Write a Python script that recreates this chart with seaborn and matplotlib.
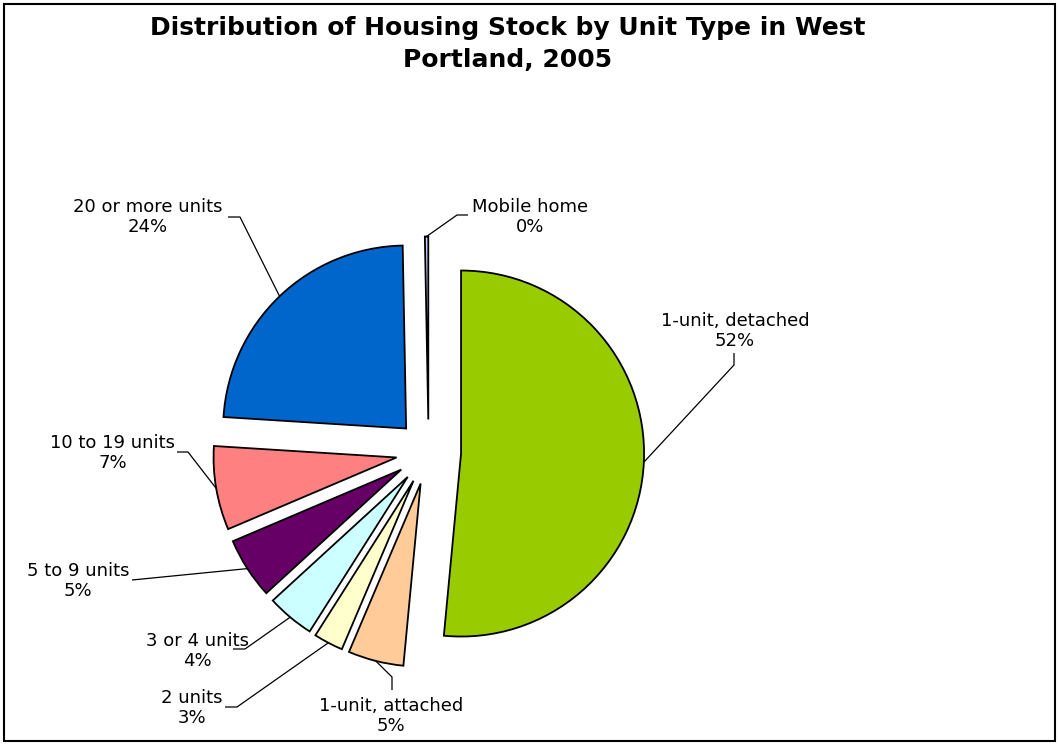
import matplotlib
matplotlib.use("Agg")
import math
import matplotlib.pyplot as plt
import seaborn as sns
from matplotlib.patches import Rectangle

# ---- data ----
categories = ["1-unit, detached", "1-unit, attached", "2 units", "3 or 4 units",
              "5 to 9 units", "10 to 19 units", "20 or more units", "Mobile home"]
shares = [51.5, 4.9, 2.6, 4.2, 5.4, 7.4, 23.7, 0.3]
colors = ["#99CC00", "#FFCC99", "#FFFFCC", "#CCFFFF",
          "#660066", "#FF8080", "#0066CC", "#CCCCFF"]
title = "Distribution of Housing Stock by Unit Type in West\nPortland, 2005"

# ---- layout (pixel coordinates, y from top) ----
W, H = 1059, 745
label_pos = [(735, 331), (391, 716), (192, 708), (197, 651),
             (78, 581), (113, 453), (148, 217), (530, 217)]
leader_pts = [[(734, 365), (734, 353)],
              [(392, 677), (392, 690)],
              [(237, 707), (225, 707)],
              [(245, 649), (233, 649)],
              [(132, 580)],
              [(188, 452), (177, 452)],
              [(240, 217), (228, 217)],
              [(457, 215), (468, 215)]]

sns.set_theme(style="white")
plt.rcParams["font.family"] = ["DejaVu Sans"]

fig = plt.figure(figsize=(W / 100, H / 100), dpi=100)
fig.patch.set_facecolor("white")
ax = fig.add_axes([0, 0, 1, 1])

R = 183
cx, cy = 428.6, H - 452
wedges, _ = ax.pie(shares, colors=colors, startangle=90, counterclock=False,
                   radius=R, center=(cx, cy), explode=[32.5] * len(shares),
                   wedgeprops=dict(edgecolor="black", linewidth=1.3))
ax.set_xlim(0, W)
ax.set_ylim(0, H)
ax.set_aspect("equal")
ax.axis("off")

for w, cat, v, (lx, ly), pts in zip(wedges, categories, shares, label_pos, leader_pts):
    tm = math.radians((w.theta1 + w.theta2) / 2)
    ax_x = w.center[0] + R * math.cos(tm)
    ax_y = w.center[1] + R * math.sin(tm)
    xs = [ax_x] + [p[0] for p in pts]
    ys = [ax_y] + [H - p[1] for p in pts]
    ax.plot(xs, ys, color="black", lw=0.9, solid_capstyle="butt")
    ax.text(lx, H - ly, f"{cat}\n{v:.0f}%", ha="center", va="center",
            fontsize=13, color="black", linespacing=1.18)

fig.text(507.5 / W, 1 - 44 / H, title, ha="center", va="center",
         fontsize=18, fontweight="bold", color="black", linespacing=1.45)

fig.add_artist(Rectangle((4 / W, 4 / H), 1051 / W, 737 / H, transform=fig.transFigure,
                         fill=False, edgecolor="black", linewidth=1.5))

fig.savefig("out.png", dpi=100)
